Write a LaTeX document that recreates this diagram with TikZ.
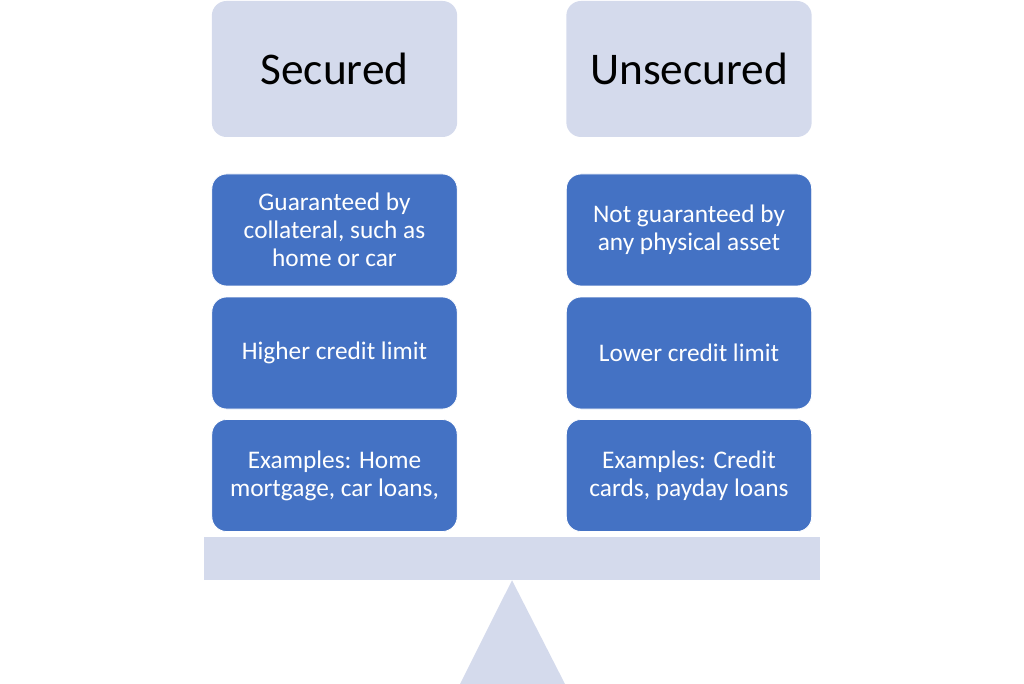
\documentclass[tikz,border=0pt]{standalone}
\usepackage{fontspec}
\setmainfont{Carlito}
\usepackage{xcolor}
\usepackage{tikz}
\usetikzlibrary{positioning}
\definecolor{headfill}{HTML}{D4DAEC}
\definecolor{itemfill}{HTML}{4472C4}

\begin{document}
\begin{tikzpicture}[
  x=0.75pt,
  y=-0.75pt,
  head/.style={rounded corners=11pt, fill=headfill, minimum width=184pt, minimum height=102pt, font=\fontsize{34}{40}\selectfont},
  item/.style={rounded corners=11pt, fill=itemfill, draw=white, line width=0.6pt, text=white, minimum width=184pt, minimum height=84pt, align=center, font=\fontsize{19}{21}\selectfont},
  every node/.style={inner sep=0pt}
]
\useasboundingbox (0,0) rectangle (1024,684);
% headers
\node[head] (sec) at (334.5,69) {Secured};
\node[head] (unsec) at (689,69) {Unsecured};
% left column
\node[item] (s1) at (334.5,230) {Guaranteed by\\collateral, such as\\home or car};
\node[item] (s2) at (334.5,353) {Higher credit limit};
\node[item] (s3) at (334.5,475.5) {Examples: Home\\mortgage, car loans,};
% right column
\node[item] (u1) at (689,230) {Not guaranteed by\\any physical asset};
\node[item] (u2) at (689,353) {Lower credit limit};
\node[item] (u3) at (689,475.5) {Examples: Credit\\cards, payday loans};
% scale
\node[fill=headfill, minimum width=462pt, minimum height=32.25pt] (beam) at (512,558.5) {};
\fill[headfill] (beam.south) -- (565,684) -- (460,684) -- cycle;
\end{tikzpicture}
\end{document}
